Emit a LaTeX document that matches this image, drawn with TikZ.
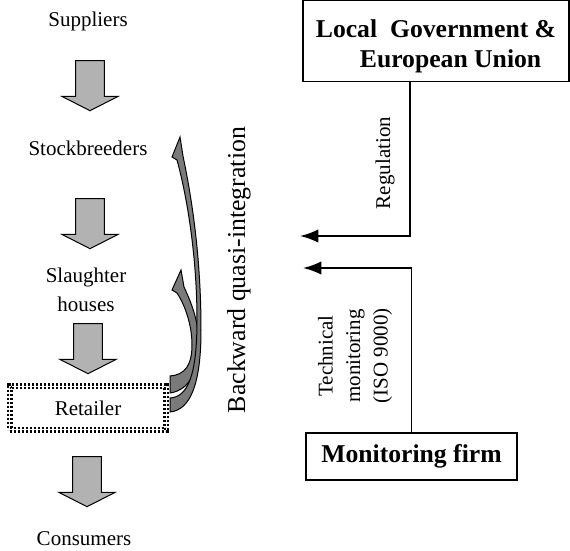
\documentclass[tikz,border=0pt]{standalone}
\usepackage{fontspec}
\setmainfont{Liberation Serif}
\usetikzlibrary{shapes.arrows,arrows.meta}

\begin{document}
\begin{tikzpicture}[x=0.6pt, y=-0.6pt, >={Latex[length=11pt,width=8pt]},
		lbl/.style={font=\fontsize{12.6}{16.5}\selectfont, inner sep=0pt},
		biglbl/.style={font=\fontsize{15.5}{18}\selectfont, inner sep=0pt},
		boldbox/.style={draw, line width=0.9pt, font=\fontsize{15.4}{18}\selectfont\bfseries, inner sep=0pt},
		retailbox/.style={draw, double, line width=1.3pt, double distance=0.9pt, dash pattern=on 1.6pt off 0.8pt,
			minimum width=94pt, minimum height=26pt, font=\fontsize{12.6}{16.5}\selectfont, inner sep=0pt},
		downarrow/.style={single arrow, draw, fill=black!30, line width=0.6pt, rotate=-90, inner xsep=0pt, inner ysep=8.4pt,
			minimum height=30pt, single arrow head extend=8.1pt, single arrow tip angle=126},
		bendarrow/.style={draw, fill=black!52, line width=0.6pt},
		flow/.style={->, line width=1.1pt}]
		\useasboundingbox (0,0) rectangle (570,551);
		% supply chain
		\node[lbl, anchor=base] (suppliers) at (88,26) {Suppliers};
		\node[lbl, anchor=base] (stock) at (88,155) {Stockbreeders};
		\node[lbl, align=center] (slaughter) at (86,290) {Slaughter\\[1pt]houses};
		\node[retailbox] (retailer) at (88,408) {Retailer};
		\node[lbl, anchor=base] (consumers) at (84,545) {Consumers};
		\node[downarrow] (supArr) at (90,82) {};
		\node[downarrow] (stockArr) at (90,220) {};
		\node[downarrow] (slaughArr) at (88,345) {};
		\node[downarrow] (retArr) at (87,478) {};
		% backward quasi-integration
		\draw[bendarrow] (170,393) .. controls (190,390) and (199,370) .. (199,345)
			.. controls (199,320) and (190,300) .. (184,287) -- (181,270) -- (172,290) -- (177,293)
			.. controls (185,305) and (192,325) .. (192,345) .. controls (192,365) and (185,375) .. (170,376) -- cycle;
		\draw[bendarrow] (170,412) .. controls (190,410) and (201,385) .. (201,330)
			.. controls (201,250) and (190,190) .. (183,156) -- (180,137) -- (172,157) -- (177,160)
			.. controls (188,200) and (197,260) .. (197,320) .. controls (197,375) and (188,397) .. (170,398) -- cycle;
		\node[biglbl, rotate=90] (backLbl) at (239,270) {Backward quasi-integration};
		% institutions
		\node[boldbox, align=left, minimum width=159.6pt, minimum height=48.6pt] (gov) at (436,41)
			{\rule{0pt}{16.5pt}Local\ \ Government \&\\\hspace*{26.4pt}European Union};
		\node[boldbox, minimum width=126.6pt, minimum height=28.2pt] (monitor) at (411.5,456.5) {Monitoring firm};
		\coordinate (regBend) at (410,236);
		\coordinate (regEnd) at (300,236);
		\coordinate (monEnd) at (303,268);
		\draw[flow] (gov.south -| regBend) -- (regBend) -- (regEnd);
		\draw[flow] (monitor.north) |- (monEnd);
		\node[lbl, rotate=90] (regLbl) at (385,163) {Regulation};
		\node[lbl, rotate=90, align=center] (techLbl) at (355,356) {Technical\\monitoring\\(ISO 9000)};
\end{tikzpicture}
\end{document}
